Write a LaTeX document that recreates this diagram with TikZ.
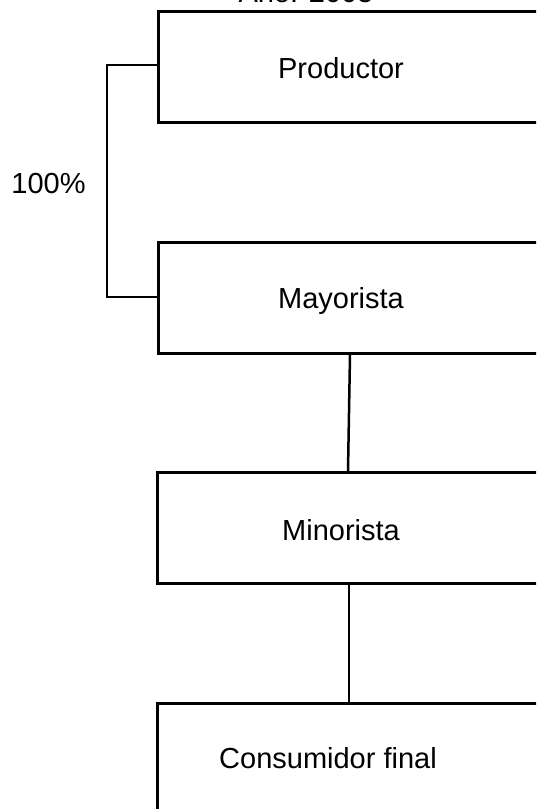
\documentclass[tikz,border=0pt]{standalone}
\usepackage{fontspec}
\setmainfont{Liberation Sans}
\begin{document}
\begin{tikzpicture}[x=1pt,y=1pt,
  box/.style={draw=black,line width=2.5pt,rectangle,anchor=north west,minimum width=440pt,minimum height=111pt,inner sep=0pt},
  lbl/.style={font=\fontsize{29}{32}\selectfont,anchor=base,inner sep=0pt},
  conn/.style={draw=black,line width=2.5pt}]
\useasboundingbox (0,0) rectangle (536,-809);
\clip (0,0) rectangle (536,-809);
\node[lbl] (title) at (306,-2) {Año: 2005};
\node[box] (prod) at (157,-10) {};
\node[box] (may) at (157,-241) {};
\node[box] (min) at (156,-471) {};
\node[box] (cons) at (156,-702) {};
\node[lbl] (prodt) at (341,-78) {Productor};
\node[lbl] (mayt) at (341,-308) {Mayorista};
\node[lbl] (mint) at (341,-540) {Minorista};
\node[lbl] (const) at (328,-768) {Consumidor final};
\node[lbl] (pct) at (48.5,-193) {100\%};
\coordinate (bt) at (107,-65);
\coordinate (bb) at (107,-297);
\draw[conn] (prod.west |- bt) -- (bt) -- (bb) -- (may.west |- bb);
\draw[conn] ([xshift=193pt]may.south west) -- ([xshift=192pt]min.north west);
\draw[conn] ([xshift=193pt]min.south west) -- ([xshift=193pt]cons.north west);
\end{tikzpicture}
\end{document}
